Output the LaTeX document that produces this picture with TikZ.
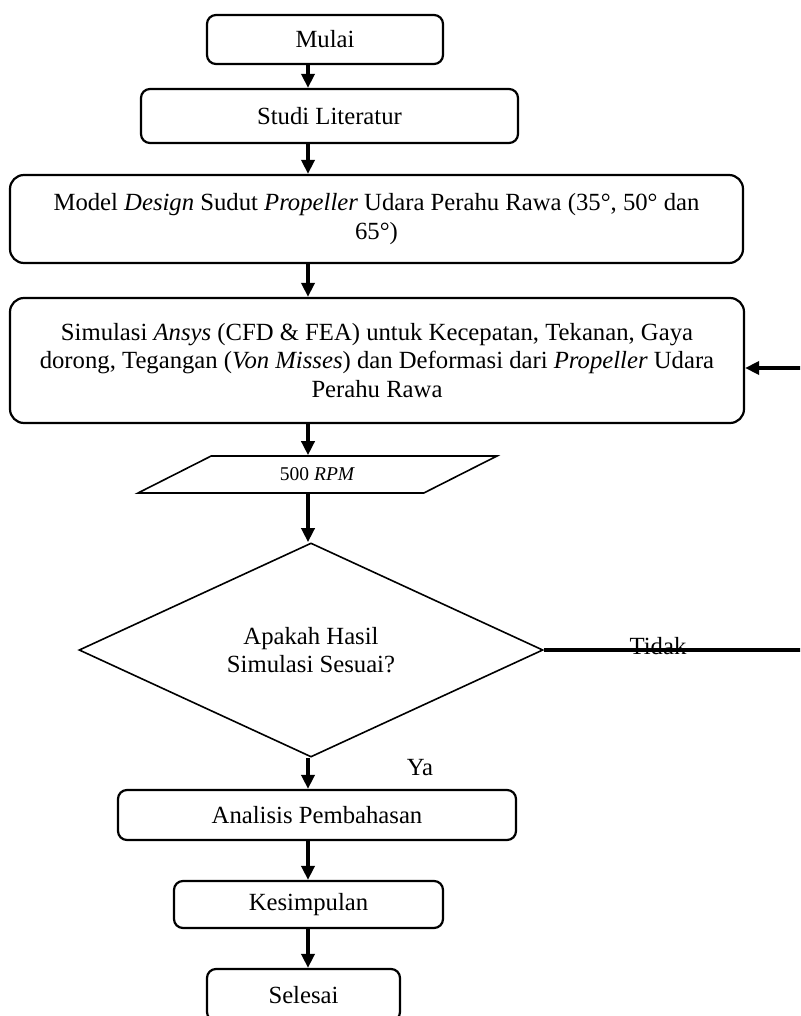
\documentclass[tikz,border=0pt]{standalone}
\usepackage{fontspec}
\setmainfont{Liberation Serif}
\usetikzlibrary{shapes.geometric,arrows.meta}

\begin{document}
\begin{tikzpicture}[x=1pt,y=-1pt,
    font=\fontsize{24.7}{28.5}\selectfont,
    box/.style={draw,line width=2.2pt,rounded corners=9pt,align=center,inner sep=0pt},
    bigbox/.style={box,rounded corners=14pt},
    io/.style={draw,line width=1.6pt,trapezium,trapezium left angle=27,trapezium right angle=153,trapezium stretches=true,inner sep=0pt},
    decision/.style={draw,line width=1.6pt,diamond,align=center,inner sep=0pt},
    flow/.style={line width=3.5pt,-{Triangle[width=13pt,length=14pt]}}]

    \path[use as bounding box] (0,0) rectangle (800,1016);
    \clip (0,0) rectangle (800,1016);

    % Steps
    \node[box,minimum width=236pt,minimum height=49pt] (mulai) at (325,39.5) {Mulai};
    \node[box,minimum width=377pt,minimum height=54pt] (studi) at (329.5,116) {Studi Literatur};
    \node[bigbox,minimum width=733pt,minimum height=88pt] (model) at (376.5,219)
        {Model \textit{Design} Sudut \textit{Propeller} Udara Perahu Rawa (35°, 50° dan\\65°)};
    \node[bigbox,minimum width=734pt,minimum height=125pt] (simulasi) at (377,360.5)
        {Simulasi \textit{Ansys} (CFD \& FEA) untuk Kecepatan, Tekanan, Gaya\\dorong, Tegangan (\textit{Von Misses}) dan Deformasi dari \textit{Propeller} Udara\\Perahu Rawa};
    \node[io,minimum width=359pt,minimum height=37pt,font=\fontsize{19.5}{22}\selectfont] (rpm) at (317.5,474.5) {500 \textit{RPM}};
    \node[decision,minimum width=464pt,minimum height=210pt] (cek) at (311,650) {Apakah Hasil\\Simulasi Sesuai?};
    \node[box,minimum width=398pt,minimum height=50pt] (analisis) at (317,815) {Analisis Pembahasan};
    \node[box,minimum width=269pt,minimum height=47pt] (kesimpulan) at (308.5,904.5) {Kesimpulan};
    \node[box,minimum width=193pt,minimum height=52pt] (selesai) at (303.5,995) {Selesai};

    % Main flow
    \coordinate (spine) at (308,0);
    \foreach \a/\b in {mulai/studi,studi/model,model/simulasi,simulasi/rpm,rpm/cek,cek/analisis,analisis/kesimpulan,kesimpulan/selesai}
    \draw[flow] (\a.south -| spine) -- (\b.north -| spine);

    % Loop back
    \coordinate (back) at (803,368);
    \draw[flow] (cek.east) -| (back) -- (back -| simulasi.east);
    \node[anchor=base] (tidak) at (658,654) {Tidak};
    \node[anchor=base] (ya) at (420,775) {Ya};

\end{tikzpicture}
\end{document}
